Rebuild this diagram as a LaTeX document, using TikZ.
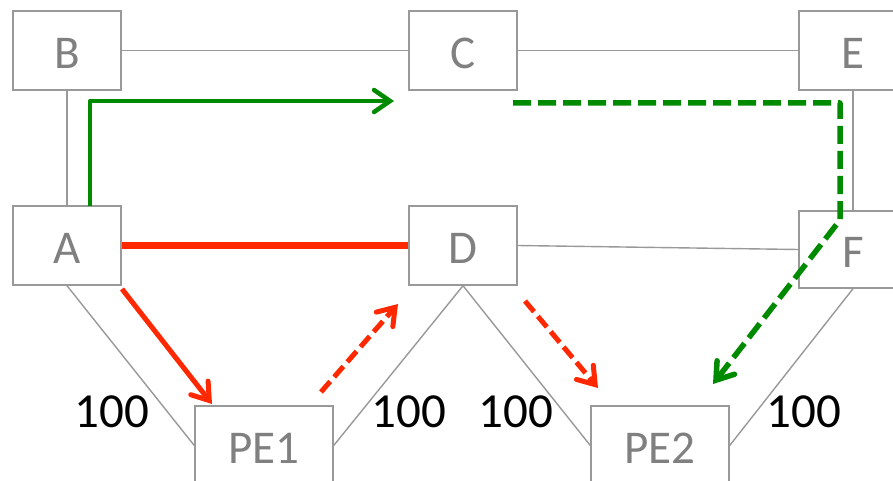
\documentclass[tikz,border=0pt]{standalone}
\usepackage{fontspec}
\setmainfont{Carlito}
\usetikzlibrary{arrows.meta}
\definecolor{boxgray}{RGB}{153,153,153}
\definecolor{txtgray}{RGB}{128,128,128}
\definecolor{pathred}{RGB}{255,40,0}
\definecolor{pathgreen}{RGB}{0,138,0}
\tikzset{
  router/.style={draw=boxgray, line width=1.4pt, fill=white, minimum width=108pt, minimum height=79pt,
    inner sep=0pt, text=txtgray, font=\fontsize{47}{47}\selectfont, text height=36pt, text depth=0pt},
  pebox/.style={router, minimum width=138pt},
  link/.style={draw=boxgray, line width=1.4pt},
  cost/.style={font=\fontsize{49}{49}\selectfont, text=black, inner sep=0pt},
  tipbarb/.style={-{Straight Barb[length=16pt,width=22pt,line cap=round,line join=miter]}},
  redsolid/.style={draw=pathred, line width=5pt, tipbarb},
  reddash/.style={draw=pathred, line width=5pt, dash pattern=on 14pt off 6pt, tipbarb},
  greensolid/.style={draw=pathgreen, line width=4.5pt, line join=round, tipbarb},
  greendash/.style={draw=pathgreen, line width=5.5pt, dash pattern=on 18pt off 7pt, line join=round, tipbarb},
}
\begin{document}
\begin{tikzpicture}[x=1pt,y=-1pt]
\clip (0,0) rectangle (893,481);
\fill[white] (0,0) rectangle (893,481);
\node[router] (B) at (67,50.5) {B};
\node[router] (C) at (463,50.5) {C};
\node[router] (E) at (853,50.5) {E};
\node[router] (A) at (67,245.5) {A};
\node[router] (D) at (463,245.5) {D};
\node[router, minimum height=77pt] (F) at (853,249.5) {F};
\node[pebox] (PE1) at (264,445.5) {PE1};
\node[pebox] (PE2) at (660,445.5) {PE2};
\draw[link] (B.east) -- (C.west);
\draw[link] (C.east) -- (E.west);
\draw[link] (B.south) -- (A.north);
\draw[link] (E.south) -- (F.north);
\draw[link] (D.east) -- (F.west);
\draw[link] (A.south) -- (PE1.west);
\draw[link] (PE1.east) -- (D.south);
\draw[link] (D.south) -- (PE2.west);
\draw[link] (PE2.east) -- (F.south);
% cost labels
\node[cost] (c1) at (112,412) {100};
\node[cost] (c2) at (409,412) {100};
\node[cost] (c3) at (516,412) {100};
\node[cost] (c4) at (804,412) {100};
% red paths
\draw[draw=pathred, line width=7pt] (A.east) -- (D.west);
\coordinate (r1s) at (122,289);
\coordinate (r1e) at (212,404);
\draw[redsolid] (r1s) -- (r1e);
\coordinate (r2s) at (321,392);
\coordinate (r2e) at (398,304);
\draw[reddash] (r2s) -- (r2e);
\coordinate (r3s) at (525,301);
\coordinate (r3e) at (598,388);
\draw[reddash] (r3s) -- (r3e);
% green paths
\coordinate (g1s) at (90,206);
\coordinate (g1e) at (394,101);
\draw[greensolid] (g1s) |- (g1e);
\coordinate (g2s) at (513,103);
\coordinate (g2c) at (840,103);
\coordinate (g2d) at (840,220);
\coordinate (g2e) at (713,384);
\draw[greendash] (g2s) -- (g2c) -- (g2d) -- (g2e);
\end{tikzpicture}
\end{document}
